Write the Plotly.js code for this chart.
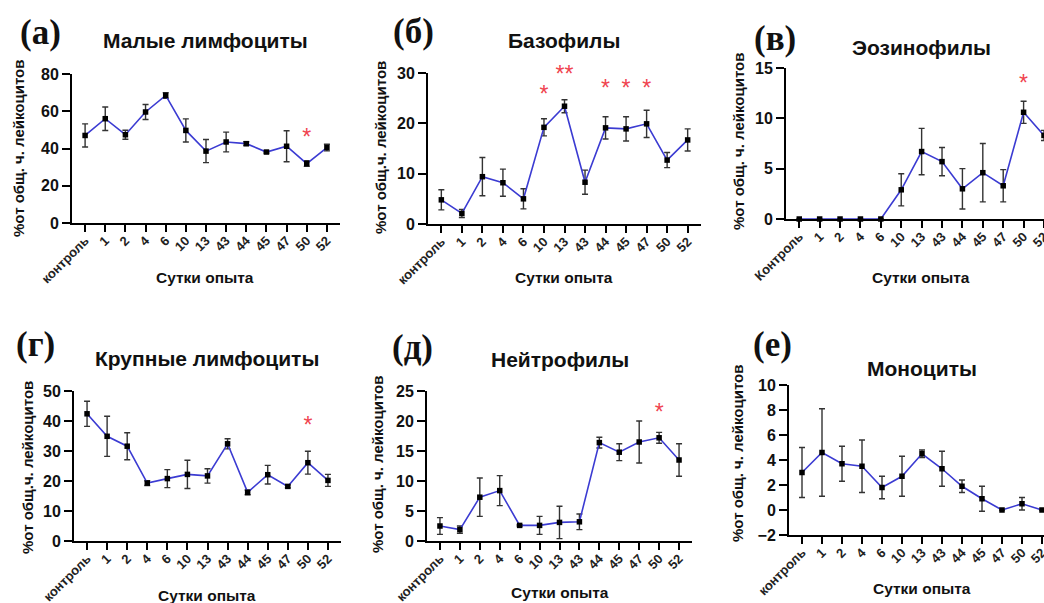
<!DOCTYPE html>
<html>
<head>
<meta charset="utf-8">
<script src="https://cdn.plot.ly/plotly-3.0.1.min.js"></script>
<style>html,body{margin:0;padding:0;background:#fff;} #chart{width:1044px;height:603px;}</style>
</head>
<body>
<div id="chart"></div>
<script>
// ---- data ----
const days = ['1','2','4','6','10','13','43','44','45','47','50','52'];
const controlLabel = 'контроль';
const controlLabelCap = 'Контроль';

const smallLymphMean = [47, 56, 47.4, 59.6, 68.5, 49.7, 38.6, 43.5, 42.6, 38.1, 41.2, 31.9, 40.5];
const smallLymphErr  = [6.2, 6.3, 2.4, 4, 1.5, 6.2, 6.2, 5.3, 1, 0.5, 8.3, 1.5, 1.8];
const smallLymphStarX = ['50'];
const smallLymphStarY = [44.8];
const smallLymphStarText = ['*'];

const basoMean = [4.8, 2.1, 9.4, 8.2, 5.0, 19.2, 23.4, 8.3, 19.1, 18.9, 19.9, 12.7, 16.7];
const basoErr  = [2, 0.8, 3.8, 2.7, 2, 1.7, 1.3, 2.4, 2.2, 2.4, 2.7, 1.5, 2.2];
const basoStarX = ['10', '13', '44', '45', '47'];
const basoStarY = [25.4, 29.3, 26.6, 26.6, 26.6];
const basoStarText = ['*', '**', '*', '*', '*'];

const eosMean = [0, 0, 0, 0, 0, 2.9, 6.7, 5.7, 3.0, 4.6, 3.3, 10.6, 8.3];
const eosErr  = [0, 0, 0, 0, 0, 1.6, 2.3, 1.4, 2, 2.9, 1.6, 1.1, 0.5];
const eosStarX = ['50'];
const eosStarY = [13.3];
const eosStarText = ['*'];

const largeLymphMean = [42.4, 34.9, 31.6, 19.3, 20.8, 22.2, 21.7, 32.4, 16.2, 22.1, 18.2, 26.1, 20.2];
const largeLymphErr  = [4.2, 6.7, 4.5, 0.8, 3, 4.7, 2.4, 1.7, 0.8, 3.1, 0.5, 3.8, 2];
const largeLymphStarX = ['50'];
const largeLymphStarY = [38];
const largeLymphStarText = ['*'];

const neutroMean = [2.5, 1.9, 7.3, 8.4, 2.6, 2.6, 3.1, 3.2, 16.4, 14.8, 16.5, 17.2, 13.5];
const neutroErr  = [1.4, 0.6, 3.2, 2.5, 0.1, 1.5, 2.7, 1.3, 0.9, 1.4, 3.5, 0.9, 2.7];
const neutroStarX = ['50'];
const neutroStarY = [21.2];
const neutroStarText = ['*'];

const monoMean = [3.0, 4.6, 3.7, 3.5, 1.8, 2.7, 4.5, 3.3, 1.9, 0.9, 0, 0.5, 0];
const monoErr  = [2, 3.5, 1.4, 2.1, 0.9, 1.6, 0.3, 1.4, 0.5, 1, 0, 0.5, 0];

const yTitleA = '%от общ. ч. лейкоцитов';
const yTitleB = '%от общ.ч. лейкоцитов';
const xTitle = 'Сутки опыта';

// ---- layout helpers ----
const W = 1044, H = 603;
const px = v => v / W;
const py = v => 1 - v / H;

const panels = [
  {id:'', label:'(а)', title:'Малые лимфоциты', mean:smallLymphMean, err:smallLymphErr, sx:smallLymphStarX, sy:smallLymphStarY, st:smallLymphStarText,
   ctrl:controlLabel, xd:[72,340], yd:[74,223], yr:[0,80], dt:20, xr:[-0.65,12.65], ytitle:yTitleA,
   lab:[40,33], tit:[205,40], yt:[18,149], xt:[205,277]},
  {id:'2', label:'(б)', title:'Базофилы', mean:basoMean, err:basoErr, sx:basoStarX, sy:basoStarY, st:basoStarText,
   ctrl:controlLabel, xd:[428,701], yd:[73,224], yr:[0,30], dt:10, xr:[-0.65,12.65], ytitle:yTitleB,
   lab:[413,32], tit:[564,40], yt:[380,148], xt:[564,277]},
  {id:'3', label:'(в)', title:'Эозинофилы', mean:eosMean, err:eosErr, sx:eosStarX, sy:eosStarY, st:eosStarText,
   ctrl:controlLabelCap, xd:[786,1044], yd:[68,219], yr:[0,15], dt:5, xr:[-0.65,12.0], ytitle:yTitleA,
   lab:[775,38], tit:[921,48], yt:[738,142], xt:[921,277]},
  {id:'4', label:'(г)', title:'Крупные лимфоциты', mean:largeLymphMean, err:largeLymphErr, sx:largeLymphStarX, sy:largeLymphStarY, st:largeLymphStarText,
   ctrl:controlLabel, xd:[74,341], yd:[391,541], yr:[0,50], dt:10, xr:[-0.65,12.65], ytitle:yTitleB,
   lab:[35,345], tit:[207,358], yt:[27,468], xt:[207,595]},
  {id:'5', label:'(д)', title:'Нейтрофилы', mean:neutroMean, err:neutroErr, sx:neutroStarX, sy:neutroStarY, st:neutroStarText,
   ctrl:controlLabel, xd:[427,692], yd:[391,541], yr:[0,25], dt:5, xr:[-0.65,12.65], ytitle:yTitleA,
   lab:[412,347], tit:[560,360], yt:[377,465], xt:[560,592]},
  {id:'6', label:'(е)', title:'Моноциты', mean:monoMean, err:monoErr, sx:[], sy:[], st:[],
   ctrl:controlLabel, xd:[789,1044], yd:[385,535], yr:[-2,10], dt:2, xr:[-0.65,12.1], ytitle:yTitleA,
   lab:[772,345], tit:[922,368], yt:[737,454], xt:[922,588]}
];

const data = [];
const layout = {
  width: W, height: H,
  margin: {l:0, r:0, t:0, b:0},
  paper_bgcolor: '#ffffff', plot_bgcolor: '#ffffff',
  showlegend: false,
  font: {family: 'Liberation Sans, Arial, sans-serif', color: '#111'},
  annotations: []
};

const boldSans = 'Liberation Sans, Arial, sans-serif';

panels.forEach(p => {
  const cats = [p.ctrl].concat(days);
  const xa = 'x' + p.id, ya = 'y' + p.id;
  data.push({
    type: 'scatter', mode: 'lines+markers', x: cats, y: p.mean,
    xaxis: xa, yaxis: ya, cliponaxis: false,
    line: {color: '#3b3bd2', width: 1.6},
    marker: {symbol: 'square', size: 5.5, color: '#000'},
    error_y: {type: 'data', array: p.err, visible: true, color: '#333', thickness: 1.4, width: 3}
  });
  if (p.sx.length) {
    data.push({
      type: 'scatter', mode: 'text', x: p.sx, y: p.sy, text: p.st,
      xaxis: xa, yaxis: ya, cliponaxis: false,
      textposition: 'middle center',
      textfont: {family: boldSans, size: 23, color: '#f0444f'}
    });
  }
  const xk = 'xaxis' + p.id, yk = 'yaxis' + p.id;
  layout[xk] = {
    domain: [px(p.xd[0]), px(p.xd[1])], anchor: ya,
    type: 'category', categoryorder: 'array', categoryarray: cats,
    range: p.xr, fixedrange: true,
    showline: true, linecolor: '#000', linewidth: 2,
    ticks: 'outside', ticklen: 7, tickwidth: 2, tickcolor: '#000',
    tickangle: -45, showgrid: false, zeroline: false,
    ticklabelstandoff: -4,
    tickfont: {family: boldSans, size: 13, color: '#222', weight: 'bold'}
  };
  layout[yk] = {
    domain: [py(p.yd[1]), py(p.yd[0])], anchor: xa,
    range: p.yr, dtick: p.dt, tick0: 0, fixedrange: true,
    showline: true, linecolor: '#000', linewidth: 2,
    ticks: 'outside', ticklen: 8, tickwidth: 2, tickcolor: '#000',
    showgrid: false, zeroline: false,
    tickfont: {family: boldSans, size: 16, color: '#111', weight: 'bold'}
  };
  layout.annotations.push(
    {text: p.label, xref: 'paper', yref: 'paper', x: px(p.lab[0]), y: py(p.lab[1]), xanchor: 'center', yanchor: 'middle', showarrow: false,
     font: {family: 'Liberation Serif, Times New Roman, serif', size: 35, color: '#111', weight: 'bold'}},
    {text: p.title, xref: 'paper', yref: 'paper', x: px(p.tit[0]), y: py(p.tit[1]), xanchor: 'center', yanchor: 'middle', showarrow: false,
     font: {family: boldSans, size: 21, color: '#111', weight: 'bold'}},
    {text: p.ytitle, xref: 'paper', yref: 'paper', x: px(p.yt[0]), y: py(p.yt[1]), xanchor: 'center', yanchor: 'middle', showarrow: false, textangle: -90,
     font: {family: boldSans, size: 15, color: '#111', weight: 'bold'}},
    {text: xTitle, xref: 'paper', yref: 'paper', x: px(p.xt[0]), y: py(p.xt[1]), xanchor: 'center', yanchor: 'middle', showarrow: false,
     font: {family: boldSans, size: 15.5, color: '#111', weight: 'bold'}}
  );
});

Plotly.newPlot('chart', data, layout, {staticPlot: true, displayModeBar: false});
</script>
</body>
</html>
